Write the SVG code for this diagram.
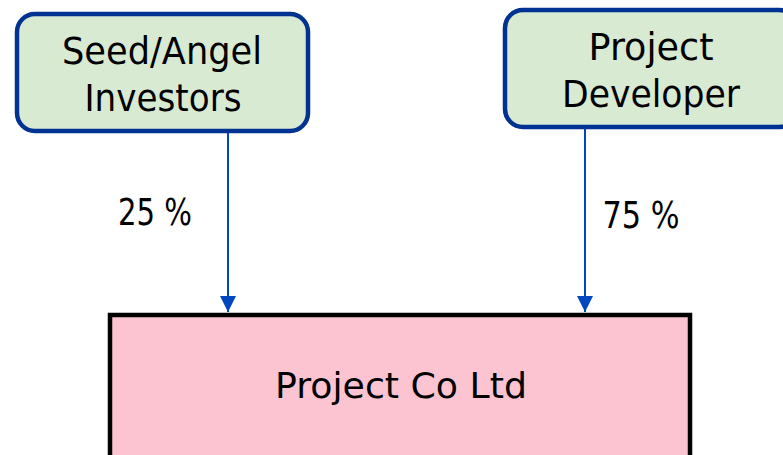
<svg xmlns="http://www.w3.org/2000/svg" width="783" height="455" viewBox="0 0 783 455">
<style>
.gbox{fill:#d9ead3;stroke:#003391;stroke-width:4.5}
.pbox{fill:#fbc4d0;stroke:#000;stroke-width:4.5}
.t{font-family:"DejaVu Sans",Verdana,sans-serif;fill:#000;text-anchor:middle}
.conn{stroke:#0047c0;stroke-width:2;fill:none}
</style>
<defs>
<marker id="ah" markerUnits="userSpaceOnUse" markerWidth="16" markerHeight="18" refX="16" refY="8" orient="auto">
<path d="M0,0 L16,8 L0,16 Z" fill="#0047c0"/>
</marker>
</defs>
<rect width="783" height="455" fill="#fff"/>
<g id="connectors">
<line class="conn" x1="228" y1="133" x2="228" y2="312" marker-end="url(#ah)"/>
<line class="conn" x1="585" y1="129" x2="585" y2="312" marker-end="url(#ah)"/>
<text class="t" x="155" y="225" font-size="37" textLength="74" lengthAdjust="spacingAndGlyphs">25 %</text>
<text class="t" x="641" y="228" font-size="37" textLength="77" lengthAdjust="spacingAndGlyphs">75 %</text>
</g>
<g id="seed">
<rect class="gbox" x="17" y="14" width="291" height="117" rx="18"/>
<text class="t" x="162" y="64" font-size="37" textLength="200" lengthAdjust="spacingAndGlyphs">Seed/Angel</text>
<text class="t" x="163" y="111" font-size="37" textLength="157" lengthAdjust="spacingAndGlyphs">Investors</text>
</g>
<g id="developer">
<rect class="gbox" x="505" y="10" width="292" height="117" rx="18"/>
<text class="t" x="651" y="60" font-size="37" textLength="125" lengthAdjust="spacingAndGlyphs">Project</text>
<text class="t" x="651" y="107" font-size="37" textLength="178" lengthAdjust="spacingAndGlyphs">Developer</text>
</g>
<g id="projectco">
<rect class="pbox" x="110" y="315" width="580" height="160"/>
<text class="t" x="401" y="398" font-size="35" textLength="252" lengthAdjust="spacingAndGlyphs">Project Co Ltd</text>
</g>
</svg>
